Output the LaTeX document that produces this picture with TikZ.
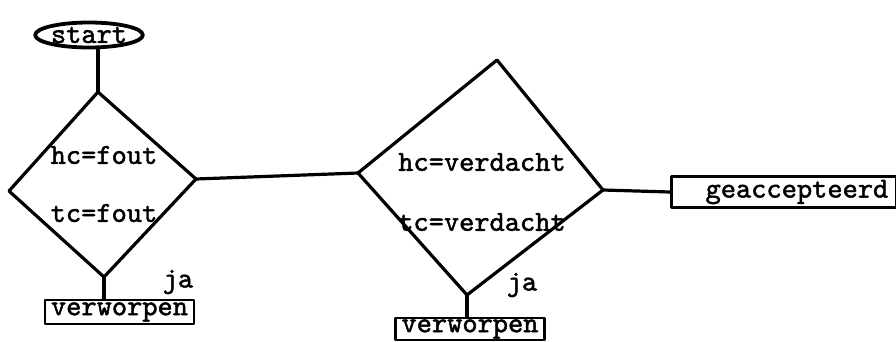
\documentclass[tikz,border=0pt]{standalone}
\usepackage{fontspec}
\newfontfamily\typewriter[FakeBold=1.6]{lmmono10-regular.otf}
\usetikzlibrary{shapes.geometric}
\begin{document}
\begin{tikzpicture}[x=1pt,y=-1pt,
  line join=round, line cap=round,
  every node/.style={font=\typewriter\fontsize{29}{34}\selectfont, inner sep=0pt},
  wire/.style={line width=3.2pt},
  terminal/.style={ellipse, draw, line width=3.8pt, minimum width=93pt, minimum height=25pt},
  outbox/.style={draw, line width=2.6pt, rectangle, minimum height=24pt},
  cond/.style={}]
  \useasboundingbox (0,0) rectangle (896,341);

  % start terminal
  \node[terminal] (start) at (89,35) {start};

  % first decision
  \coordinate (d1t) at (98,92);
  \coordinate (d1l) at (9,191);
  \coordinate (d1r) at (196,179);
  \coordinate (d1b) at (104,277);
  \draw[wire] (d1t) -- (d1r) -- (d1b) -- (d1l) -- cycle;
  \node[cond] (hc1) at (104,155) {hc=fout};
  \node[cond] (tc1) at (104,213) {tc=fout};
  \node[cond] (ja1) at (178,282) {ja};

  % second decision
  \coordinate (d2t) at (497,60);
  \coordinate (d2l) at (358,173);
  \coordinate (d2r) at (603,190);
  \coordinate (d2b) at (467,295);
  \draw[wire] (d2t) -- (d2r) -- (d2b) -- (d2l) -- cycle;
  \node[cond] (hc2) at (482,162) {hc=verdacht};
  \node[cond] (tc2) at (482,222) {tc=verdacht};
  \node[cond] (ja2) at (522,285) {ja};

  % outcomes
  \node[outbox, minimum width=149pt] (rej1) at (119.5,312) {verworpen};
  \node[outbox, minimum width=149pt, minimum height=22pt] (rej2) at (470,329) {verworpen};
  \node[outbox, anchor=west, minimum height=31pt, inner xsep=8pt,
        text width=209pt, align=right] (acc) at (670,192) {geaccepteerd};

  % connectors
  \draw[wire] ([yshift=1pt]start.south -| d1t) -- (d1t);
  \draw[wire] (d1r) -- (d2l);
  \draw[wire] (d1b) -- (rej1.north -| d1b);
  \draw[wire] (d2b) -- (rej2.north -| d2b);
  \draw[wire] (d2r) -- (acc.west);
\end{tikzpicture}
\end{document}
